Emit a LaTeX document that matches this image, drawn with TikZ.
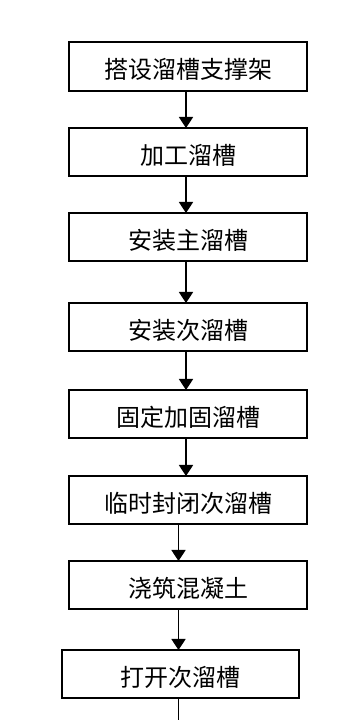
\documentclass[tikz,border=0pt]{standalone}
\usepackage{fontspec}
\newfontfamily\cjk{Noto Sans CJK SC}
\usetikzlibrary{arrows.meta}
\begin{document}
\begin{tikzpicture}[x=1pt,y=1pt,
  stepbox/.style={draw=black, line width=1.8pt, rectangle, inner sep=0pt, outer sep=0pt,
    font=\cjk\fontsize{24}{24}\selectfont, text height=25pt, text depth=0pt},
  arr/.style={line width=1.8pt, -{Triangle[length=11pt,width=14pt]}}]
\useasboundingbox (0,0) rectangle (351,720);
\fill[white] (0,0) rectangle (351,720);
\node[stepbox, minimum width=238pt, minimum height=49pt] (b1) at (188,653.5) {搭设溜槽支撑架};
\node[stepbox, minimum width=238pt, minimum height=48pt] (b2) at (188,568) {加工溜槽};
\node[stepbox, minimum width=238pt, minimum height=48pt] (b3) at (188,483) {安装主溜槽};
\node[stepbox, minimum width=238pt, minimum height=48pt] (b4) at (188,393) {安装次溜槽};
\node[stepbox, minimum width=238pt, minimum height=48pt] (b5) at (188,306) {固定加固溜槽};
\node[stepbox, minimum width=238pt, minimum height=48pt] (b6) at (188,220) {临时封闭次溜槽};
\node[stepbox, minimum width=238pt, minimum height=48pt] (b7) at (188,135) {浇筑混凝土};
\node[stepbox, minimum width=237pt, minimum height=48pt] (b8) at (180.5,46) {打开次溜槽};
\coordinate (xa) at (186,0);
\coordinate (xb) at (178.5,0);
\coordinate (end) at (178.5,0);
\draw[arr] (b1.south -| xa) -- (b2.north -| xa);
\draw[arr] (b2.south -| xa) -- (b3.north -| xa);
\draw[arr] (b3.south -| xa) -- (b4.north -| xa);
\draw[arr] (b4.south -| xa) -- (b5.north -| xa);
\draw[arr] (b5.south -| xa) -- (b6.north -| xa);
\draw[arr] (b6.south -| xb) -- (b7.north -| xb);
\draw[arr] (b7.south -| xb) -- (b8.north -| xb);
\draw[line width=1.8pt] (b8.south -| xb) -- (end);
\end{tikzpicture}
\end{document}
